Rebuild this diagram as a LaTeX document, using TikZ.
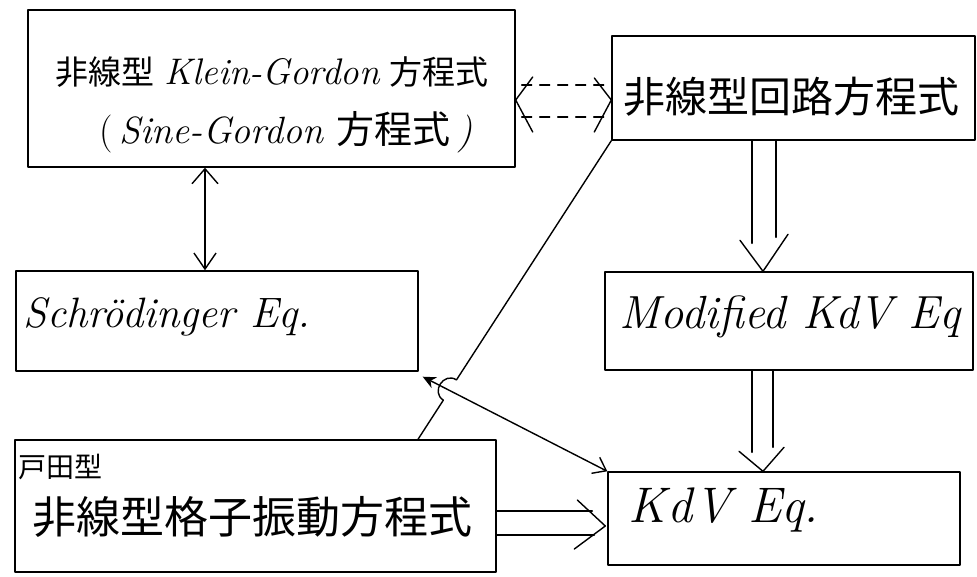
\documentclass[tikz,border=0pt]{standalone}
\usepackage{fontspec}
\newfontfamily\cjk{Noto Sans CJK JP}
\usetikzlibrary{arrows.meta,calc}
\begin{document}
\begin{tikzpicture}[x=1pt,y=-1pt,line width=1.4pt,line cap=round,line join=round,
  box/.style 2 args={draw,minimum width=#1,minimum height=#2,inner sep=0pt},
  txt/.style={inner sep=0pt},
  dsh/.style={dash pattern=on 10pt off 8pt},
  fs/.style={font=\fontsize{#1}{#1}\selectfont}]
\useasboundingbox (0,0) rectangle (977,576);
% boxes
\node[box={487pt}{157pt}] (KG) at (271.5,88.5) {};
\node[box={363pt}{104pt}] (Circ) at (793.5,88) {};
\node[box={402pt}{100pt}] (Sch) at (217,321) {};
\node[box={368pt}{98pt}] (MKdV) at (789,321) {};
\node[box={481pt}{132pt}] (Toda) at (255.5,506) {};
\node[box={352pt}{93pt}] (KdV) at (784,518.5) {};
% texts
\node[txt,fs=33] (KGa) at (272,72) {{\cjk 非線型} {\fontsize{37}{37}\selectfont\itshape Klein-Gordon} {\cjk 方程式}};
\node[txt,fs=38] (KGb) at (286,132) {(\,\itshape Sine-Gordon {\cjk\upshape 方程式}\,)};
\node[txt,fs=42] (Circt) at (791,97) {\cjk 非線型回路方程式};
\node[txt,fs=42.5,anchor=west] (Scht) at (23,317) {\itshape Schrödinger Eq.};
\node[txt,fs=46.5] (MKdVt) at (790,317) {\itshape Modified KdV Eq};
\node[txt,fs=28,anchor=west] (Todas) at (18,467) {\cjk 戸田型};
\node[txt,fs=44] (Todam) at (252,517) {\cjk 非線型格子振動方程式};
\node[txt,fs=50,anchor=west] (KdVt) at (628,510) {\itshape K\kern1pt d\kern2pt V Eq.};
% KG <-> Sch
\path (KG.south) ++(-66.5,0) coordinate (v1);
\path (Sch.north) ++(-12,0) coordinate (v2);
\draw[{Straight Barb[length=15pt,width=26pt]}-{Straight Barb[length=16pt,width=22pt]}] (v1) -- (v2);
% KG <-> Circ (dashed)
\path (KG.east) ++(0,11.5) coordinate (dl);
\path (Circ.west) ++(0,12) coordinate (dr);
\draw (dl) ++(17,-23) -- (dl) -- ++(17,32);
\draw (dr) ++(-17,-22) -- (dr) -- ++(-17,32);
\draw[dsh] ($(dl)+(6,-15)$) -- ($(dr)+(-6,-15)$);
\draw[dsh] ($(dl)+(6,17)$) -- ($(dr)+(-6,17)$);
% Circ => MKdV
\path (MKdV.north) ++(-26,0) coordinate (t1);
\draw (t1 |- Circ.south) ++(-11,0) -- ($(t1)+(-11,-28)$);
\draw (t1 |- Circ.south) ++(13,0) -- ($(t1)+(13,-34)$);
\draw ($(t1)+(-23,-31)$) -- (t1) -- ($(t1)+(25,-37)$);
% MKdV => KdV
\path (KdV.north) ++(-21,0) coordinate (t2);
\draw (t2 |- MKdV.south) ++(-11,0) -- ($(t2)+(-11,-19)$);
\draw (t2 |- MKdV.south) ++(10,0) -- ($(t2)+(10,-24)$);
\draw ($(t2)+(-24,-20)$) -- (t2) -- ($(t2)+(21,-24)$);
% Toda => KdV
\path (KdV.west) ++(-2,7.5) coordinate (t3);
\draw (t3 -| Toda.east) ++(0,-15) -- ($(t3)+(-13,-15)$);
\draw (t3 -| Toda.east) ++(0,9) -- ($(t3)+(-11,9)$);
\draw ($(t3)+(-28,-26)$) -- (t3) -- ($(t3)+(-31,23)$);
% Sch <-> KdV
\draw[{Stealth[length=13pt,width=12pt]}-{Straight Barb[length=12pt,width=18pt]}] ($(Sch.south east)+(4,5)$) -- (KdV.north west);
% Circ -- Toda with hop
\path (Toda.north) ++(162.5,0) coordinate (dt);
\coordinate (dc) at (Circ.south west);
\draw (dc) -- ($(dc)!0.801!(dt)$) to[bend right=90,looseness=1.6] ($(dc)!0.869!(dt)$) -- (dt);
\end{tikzpicture}
\end{document}
